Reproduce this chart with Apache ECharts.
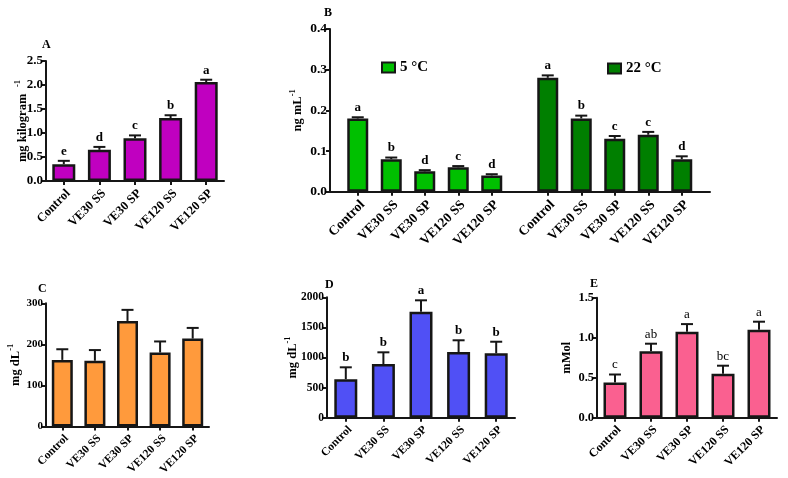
<!DOCTYPE html>
<html><head><meta charset="utf-8">
<script src="https://cdn.jsdelivr.net/npm/echarts@6/dist/echarts.min.js"></script>
<style>html,body{margin:0;padding:0;background:#fff}#c{width:788px;height:478px}</style>
</head><body><div id="c"></div><script>
// ---- data ----
const categories = ['Control', 'VE30 SS', 'VE30 SP', 'VE120 SS', 'VE120 SP'];

const aMean = [0.35, 0.65, 0.89, 1.31, 2.06];
const aSD = [0.07, 0.06, 0.06, 0.06, 0.05];
const aLetters = ['e', 'd', 'c', 'b', 'a'];

const b5Mean = [0.18, 0.08, 0.05, 0.06, 0.04];
const b5SD = [0.003, 0.004, 0.003, 0.003, 0.003];
const b5Letters = ['a', 'b', 'd', 'c', 'd'];

const b22Mean = [0.28, 0.18, 0.13, 0.14, 0.08];
const b22SD = [0.006, 0.007, 0.007, 0.007, 0.007];
const b22Letters = ['a', 'b', 'c', 'c', 'd'];

const cMean = [162, 160, 257, 180, 214];
const cSD = [26, 26, 27, 27, 26];

const dMean = [640, 890, 1760, 1090, 1070];
const dSD = [197, 196, 190, 196, 192];
const dLetters = ['b', 'b', 'a', 'b', 'b'];

const eMean = [0.44, 0.83, 1.075, 0.55, 1.10];
const eSD = [0.10, 0.095, 0.095, 0.10, 0.10];
const eLetters = ['c', 'ab', 'a', 'bc', 'a'];

const yTicksA = [0, 2.5, 0.5];
const yTicksB = [0, 0.4, 0.1];
const yTicksC = [0, 300, 100];
const yTicksD = [0, 2000, 500];
const yTicksE = [0, 1.5, 0.5];

// ---- styling helpers ----
const SERIF = '"Liberation Serif", "Times New Roman", serif';
const INK = '#161616';

function xCat(grid, fs, showLine) {
  return {
    type: 'category', gridIndex: grid, data: categories,
    axisLine: { show: showLine !== false, lineStyle: { color: INK, width: 2 } },
    axisTick: { show: true, alignWithLabel: true, length: 4, lineStyle: { color: INK, width: 2 } },
    axisLabel: { interval: 0, rotate: 45, margin: 6, verticalAlign: 'top', color: '#000',
      fontFamily: SERIF, fontWeight: 'bold', fontSize: fs },
    splitLine: { show: false }
  };
}
function yVal(grid, ticks, dec, fs, name, gap, show) {
  return {
    type: 'value', gridIndex: grid, min: ticks[0], max: ticks[1], interval: ticks[2], show: show !== false,
    axisLine: { show: true, lineStyle: { color: INK, width: 2 } },
    axisTick: { show: true, length: 4, lineStyle: { color: INK, width: 2 } },
    axisLabel: { margin: 3, color: '#000', fontFamily: SERIF, fontWeight: 'bold', fontSize: fs,
      formatter: v => v.toFixed(dec) },
    splitLine: { show: false },
    name: name, nameLocation: 'middle', nameRotate: 90, nameGap: gap, nameMoveOverlap: false,
    nameTextStyle: {
      color: '#000',
      rich: {
        n: { fontFamily: SERIF, fontWeight: 'bold', fontSize: 12.5, lineHeight: 16, verticalAlign: 'bottom' },
        s: { fontFamily: SERIF, fontWeight: 'bold', fontSize: 8.5, lineHeight: 16, verticalAlign: 'top' }
      }
    }
  };
}
function bar(name, axis, vals, color, bw) {
  return {
    type: 'bar', name: name, xAxisIndex: axis, yAxisIndex: axis, data: vals, barWidth: bw,
    itemStyle: { color: color, borderColor: INK, borderWidth: 2.5 },
    silent: true, z: 2
  };
}
function errs(axis, mean, sd, letters, bold, fs) {
  return {
    type: 'custom', xAxisIndex: axis, yAxisIndex: axis, z: 3, silent: true,
    data: mean.map((m, i) => [i, m, sd[i]]),
    renderItem: function (params, api) {
      const i = api.value(0), m = api.value(1), e = api.value(2);
      const p0 = api.coord([i, m]);
      const p1 = api.coord([i, m + e]);
      const ch = [
        { type: 'line', shape: { x1: p0[0], y1: p0[1], x2: p1[0], y2: p1[1] }, style: { stroke: INK, lineWidth: 2 } },
        { type: 'line', shape: { x1: p1[0] - 6, y1: p1[1], x2: p1[0] + 6, y2: p1[1] }, style: { stroke: INK, lineWidth: 2 } }
      ];
      if (letters) {
        ch.push({ type: 'text', style: {
          text: letters[params.dataIndex], x: p1[0], y: p1[1] - 3, align: 'center', verticalAlign: 'bottom',
          fontFamily: SERIF, fontWeight: bold ? 'bold' : 'normal', fontSize: fs, fill: '#000' } });
      }
      return { type: 'group', children: ch };
    }
  };
}
function ttl(text, left, top) {
  return { text: text, left: left, top: top, padding: 0,
    textStyle: { fontFamily: SERIF, fontWeight: 'bold', fontSize: 12, color: '#000' } };
}

const chart = echarts.init(document.getElementById('c'), null, { renderer: 'canvas' });
chart.setOption({
  animation: false,
  backgroundColor: '#fff',
  title: [ttl('A', 42, 39), ttl('B', 324, 7), ttl('C', 38, 283), ttl('D', 325, 279), ttl('E', 590, 278)],
  legend: [
    { data: ['5 °C'], left: 381, top: 60, padding: 0, icon: 'rect', itemWidth: 13, itemHeight: 10, itemGap: 0,
      textStyle: { fontFamily: SERIF, fontWeight: 'bold', fontSize: 15, color: '#000' }, selectedMode: false },
    { data: ['22 °C'], left: 607, top: 61, padding: 0, icon: 'rect', itemWidth: 13, itemHeight: 10, itemGap: 0,
      textStyle: { fontFamily: SERIF, fontWeight: 'bold', fontSize: 15, color: '#000' }, selectedMode: false }
  ],
  grid: [
    { left: 46, top: 61, width: 178, height: 120 },        // A
    { left: 330, top: 29, width: 380, height: 162.7 },     // B axis frame
    { left: 341, top: 29, width: 167.5, height: 162.7 },   // B 5 °C
    { left: 531, top: 29, width: 167.5, height: 162.7 },   // B 22 °C
    { left: 46, top: 303.3, width: 163, height: 126 },     // C
    { left: 327, top: 297.3, width: 188, height: 120.4 },  // D
    { left: 597, top: 297.7, width: 180, height: 120 }     // E
  ],
  xAxis: [
    xCat(0, 12.5),
    { type: 'value', gridIndex: 1, min: 0, max: 1, axisLine: { show: true, onZero: false, lineStyle: { color: INK, width: 2 } },
      axisTick: { show: false }, axisLabel: { show: false }, splitLine: { show: false } },
    xCat(2, 13.5, false),
    xCat(3, 13.5, false),
    xCat(4, 11.5),
    xCat(5, 11.5),
    xCat(6, 12)
  ],
  yAxis: [
    yVal(0, yTicksA, 1, 13, '{n|mg kilogram}  {s|-1}', 17),
    yVal(1, yTicksB, 1, 13.5, '{n|ng mL}{s|-1}', 26),
    yVal(2, yTicksB, 1, 11, '', 0, false),
    yVal(3, yTicksB, 1, 11, '', 0, false),
    yVal(4, yTicksC, 0, 11, '{n|mg dL}{s|-1}', 24),
    yVal(5, yTicksD, 0, 11.5, '{n|mg dL}{s|-1}', 28),
    yVal(6, yTicksE, 1, 12.5, '{n|mMol}', 24)
  ],
  series: [
    bar('A', 0, aMean, '#C000C0', 23), errs(0, aMean, aSD, aLetters, true, 13),
    bar('5 °C', 2, b5Mean, '#00C000', 21), errs(2, b5Mean, b5SD, b5Letters, true, 13),
    bar('22 °C', 3, b22Mean, '#007F00', 21), errs(3, b22Mean, b22SD, b22Letters, true, 13),
    bar('C', 4, cMean, '#FF9A3C', 21), errs(4, cMean, cSD, null, true, 12),
    bar('D', 5, dMean, '#5050F5', 23), errs(5, dMean, dSD, dLetters, true, 13),
    bar('E', 6, eMean, '#FA6090', 23), errs(6, eMean, eSD, eLetters, false, 13)
  ]
});
</script></body></html>
